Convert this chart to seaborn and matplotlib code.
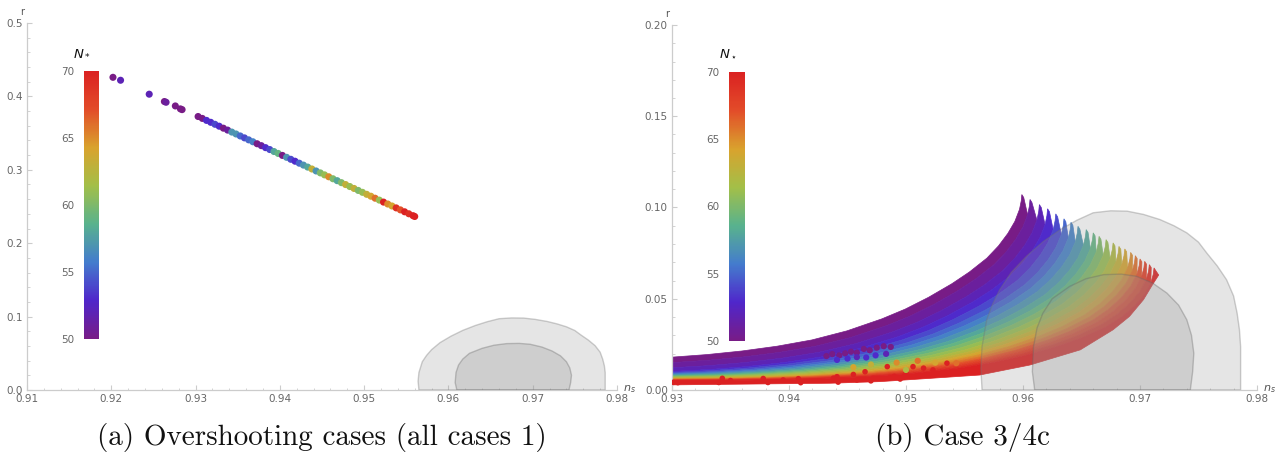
import numpy as np
import pandas as pd
import matplotlib
matplotlib.use('Agg')
import matplotlib.pyplot as plt
import seaborn as sns
from matplotlib.colors import LinearSegmentedColormap, Normalize
from matplotlib.cm import ScalarMappable
from matplotlib.ticker import MultipleLocator, AutoMinorLocator, FormatStrFormatter

# ---------- panel (a): overshooting cases ----------
a_ns = [0.9202, 0.9211, 0.9245, 0.9263, 0.9265, 0.9276, 0.9282, 0.9284,
        0.9303, 0.9308, 0.9313, 0.9318, 0.9323, 0.9328, 0.9333, 0.9338, 0.9343, 0.9348,
        0.9353, 0.9358, 0.9363, 0.9368, 0.9373, 0.9378, 0.9383, 0.9388, 0.9393, 0.9398,
        0.9403, 0.9408, 0.9413, 0.9418, 0.9423, 0.9428, 0.9433, 0.9438, 0.9443, 0.9448,
        0.9453, 0.9458, 0.9463, 0.9468, 0.9473, 0.9478, 0.9483, 0.9488, 0.9493, 0.9498,
        0.9503, 0.9508, 0.9513, 0.9518, 0.9523, 0.9528, 0.9533, 0.9538, 0.9543, 0.9548,
        0.9553, 0.9558, 0.9560]
a_r = [0.426, 0.422, 0.403, 0.393, 0.392, 0.387, 0.383, 0.382,
       0.3726, 0.3700, 0.3673, 0.3647, 0.3620, 0.3594, 0.3567, 0.3541, 0.3514, 0.3488,
       0.3461, 0.3435, 0.3408, 0.3382, 0.3355, 0.3329, 0.3302, 0.3276, 0.3249, 0.3223,
       0.3196, 0.3170, 0.3143, 0.3117, 0.3090, 0.3064, 0.3037, 0.3011, 0.2984, 0.2958,
       0.2931, 0.2905, 0.2878, 0.2852, 0.2825, 0.2799, 0.2772, 0.2746, 0.2719, 0.2693,
       0.2666, 0.2640, 0.2613, 0.2587, 0.2560, 0.2534, 0.2507, 0.2481, 0.2454, 0.2428,
       0.2401, 0.2375, 0.2364]
a_N = [50, 52, 52, 50, 51, 50, 50, 50,
       50, 50, 53, 53, 54, 53, 50, 51, 57, 57,
       55, 54, 55, 56, 50, 51, 53, 54, 58, 59,
       50, 57, 54, 53, 55, 57, 58, 63, 57, 60,
       61, 65, 60, 58, 60, 63, 61, 63, 60, 61,
       63, 64, 66, 61, 70, 65, 64, 69, 67, 70,
       69, 70, 70]

# ---------- panel (b): case 3/4c ----------
n_star = list(range(50, 71))
tip_ns = [0.9599, 0.9606, 0.9614, 0.9621, 0.9628, 0.9635, 0.9641, 0.9647, 0.9654, 0.9660,
          0.9665, 0.9671, 0.9677, 0.9682, 0.9687, 0.9692, 0.9696, 0.9700, 0.9704, 0.9708, 0.9712]
tip_r = [0.1071, 0.1044, 0.1016, 0.0993, 0.0965, 0.0938, 0.0919, 0.0897, 0.0879, 0.0861,
         0.0842, 0.0824, 0.0806, 0.0787, 0.0773, 0.0754, 0.0736, 0.0718, 0.0705, 0.0687, 0.0669]
# top of each band at ns = 0.93
start_r = [0.0180, 0.0150, 0.0122, 0.0102, 0.0097, 0.0092, 0.0088, 0.0085, 0.0081, 0.0078,
           0.0075, 0.0072, 0.0069, 0.0066, 0.0063, 0.0061, 0.0059, 0.0057, 0.0055, 0.0053, 0.0051]
# upper edge of the N=50 band
top_ns = [0.9300, 0.9330, 0.9360, 0.9390, 0.9420, 0.9450, 0.9480, 0.9500, 0.9520, 0.9540,
          0.9555, 0.9570, 0.9580, 0.9588, 0.9594, 0.9598, 0.95995, 0.9600]
top_r = [0.0180, 0.0202, 0.0228, 0.0260, 0.0300, 0.0355, 0.0425, 0.0480, 0.0545, 0.0618,
         0.0680, 0.0752, 0.0815, 0.0878, 0.0938, 0.0998, 0.1040, 0.1071]
# lower edge of the whole fan (N=70 band)
low_ns = [0.9300, 0.9403, 0.9435, 0.9478, 0.9521, 0.9563, 0.9606, 0.9649, 0.9677, 0.9691,
          0.9703, 0.9711, 0.9716]
low_r = [0.0028, 0.0035, 0.0037, 0.0046, 0.0064, 0.0082, 0.0137, 0.0220, 0.0330, 0.0403,
         0.0495, 0.0580, 0.0630]

# scan artefacts
red_ns = [0.9301, 0.9305, 0.9340, 0.9343, 0.9378, 0.9382, 0.9408, 0.9410, 0.9438, 0.9442,
          0.9441, 0.9472, 0.9484, 0.9506, 0.9523, 0.9535, 0.9350, 0.9395, 0.9455, 0.9465,
          0.9490, 0.9500, 0.9515, 0.9458, 0.9470, 0.9495]
red_r = [0.0042, 0.0040, 0.0041, 0.0064, 0.0063, 0.0041, 0.0062, 0.0040, 0.0065, 0.0043,
         0.0073, 0.0064, 0.0128, 0.0128, 0.0110, 0.0147, 0.0052, 0.0055, 0.0085, 0.0100,
         0.0075, 0.0095, 0.0120, 0.0055, 0.0050, 0.0060]
dot_ns = [0.9432, 0.9437, 0.9443, 0.9448, 0.9453, 0.9458, 0.9464, 0.9469, 0.9475, 0.9481, 0.9487,
          0.9441, 0.9450, 0.9458, 0.9466, 0.9474, 0.9483,
          0.9455, 0.9470, 0.9492, 0.9510, 0.9525, 0.9543, 0.9500]
dot_r = [0.0186, 0.0197, 0.0190, 0.0201, 0.0210, 0.0205, 0.0225, 0.0218, 0.0232, 0.0240, 0.0236,
         0.0165, 0.0172, 0.0180, 0.0178, 0.0190, 0.0198,
         0.0125, 0.0140, 0.0150, 0.0160, 0.0150, 0.0147, 0.0110]
dot_N = [50, 50, 50, 50, 50, 50, 50, 50, 50, 50, 50,
         53, 53, 52, 53, 53, 52,
         64, 63, 65, 66, 64, 66, 62]

# Planck contours (ns, r)
outer_ns = [0.9565, 0.9564, 0.9565, 0.9569, 0.9574, 0.9580, 0.9590, 0.9603, 0.9617, 0.9632,
            0.9646, 0.9660, 0.9675, 0.9689, 0.9703, 0.9717, 0.9729, 0.9740, 0.9750, 0.9757,
            0.9766, 0.9774, 0.9780, 0.9783, 0.9785, 0.9786, 0.9786]
outer_r = [0.000, 0.012, 0.0238, 0.0385, 0.047, 0.0549, 0.0645, 0.0733, 0.0812, 0.0879,
           0.0930, 0.0971, 0.0982, 0.0980, 0.0962, 0.0934, 0.0900, 0.0861, 0.0810, 0.0751,
           0.0680, 0.0604, 0.0515, 0.0421, 0.0330, 0.0238, 0.000]
inner_ns = [0.9610, 0.9608, 0.9609, 0.9612, 0.9617, 0.9625, 0.9640, 0.9654, 0.9669, 0.9684,
            0.9697, 0.9711, 0.9723, 0.9733, 0.9740, 0.9744, 0.9746, 0.9745, 0.9743]
inner_r = [0.000, 0.010, 0.0238, 0.034, 0.0421, 0.050, 0.0568, 0.0610, 0.0632, 0.0635,
           0.0623, 0.0585, 0.0531, 0.0465, 0.0385, 0.030, 0.0201, 0.010, 0.000]

sns.set_theme(style='white')
plt.rcParams['font.family'] = ['DejaVu Sans']
plt.rcParams['mathtext.fontset'] = 'dejavusans'

rainbow = LinearSegmentedColormap.from_list('mma_rainbow', [
    (0.471, 0.109, 0.527), (0.311, 0.151, 0.795), (0.266, 0.487, 0.803),
    (0.347, 0.698, 0.555), (0.638, 0.749, 0.284), (0.850, 0.638, 0.178),
    (0.888, 0.300, 0.161), (0.857, 0.131, 0.132)])
norm = Normalize(50, 70)

fig = plt.figure(figsize=(12.85, 4.55), dpi=100)
axa = fig.add_axes([27/1285, 65/455, 590/1285, 367/455])
axb = fig.add_axes([672/1285, 65/455, 585/1285, 365/455])

def style_axes(ax, xlim, ylim, ystep, yfmt, hide_zero):
    ax.set_xlim(*xlim)
    ax.set_ylim(*ylim)
    for s in ['top', 'right']:
        ax.spines[s].set_visible(False)
    for s in ['left', 'bottom']:
        ax.spines[s].set_color('#cccccc')
        ax.spines[s].set_linewidth(0.9)
    ax.xaxis.set_major_locator(MultipleLocator(0.01))
    ax.yaxis.set_major_locator(MultipleLocator(ystep))
    ax.xaxis.set_minor_locator(AutoMinorLocator(5))
    ax.yaxis.set_minor_locator(AutoMinorLocator(5))
    ax.xaxis.set_major_formatter(FormatStrFormatter('%.2f'))
    ax.yaxis.set_major_formatter(FormatStrFormatter(yfmt))
    ax.tick_params(which='both', bottom=True, left=True, direction='in',
                   color='#cccccc', labelsize=7.5, labelcolor='#666666')
    ax.tick_params(which='major', length=3.5, width=0.8, pad=3)
    ax.tick_params(which='minor', length=1.8, width=0.6)
    if hide_zero:
        ax.yaxis.get_major_ticks()[0].label1.set_visible(False)
    ax.set_xlabel('')
    ax.set_ylabel('')
    ax.annotate('r', xy=(0, 1), xycoords='axes fraction', xytext=(-2, 4),
                textcoords='offset points', ha='right', va='bottom',
                fontsize=7, color='#555555')
    ax.annotate(r'$n_s$', xy=(1, 0), xycoords='axes fraction', xytext=(4, 1),
                textcoords='offset points', ha='left', va='center',
                fontsize=8, color='#555555')

def draw_contours(ax):
    ax.fill(outer_ns, outer_r, facecolor=(0.6, 0.6, 0.6, 0.25),
            edgecolor=(0.45, 0.45, 0.45, 0.35), lw=1.0, zorder=4)
    ax.fill(inner_ns, inner_r, facecolor=(0.6, 0.6, 0.6, 0.3),
            edgecolor=(0.4, 0.4, 0.4, 0.35), lw=1.0, zorder=4)

# panel (a)
draw_contours(axa)
df_a = pd.DataFrame({'ns': a_ns, 'r': a_r, 'N': a_N})
sns.scatterplot(data=df_a, x='ns', y='r', hue='N', palette=rainbow, hue_norm=(50, 70),
                s=26, linewidth=0, legend=False, ax=axa, zorder=3)
style_axes(axa, (0.91, 0.98), (0, 0.5), 0.1, '%.1f', True)

# panel (b): one band per N_*, each upper edge follows the shape of the N=50 edge
frac = (np.array(top_ns) - 0.93) / (top_ns[-1] - 0.93)
shape = (np.array(top_r) - top_r[0]) / (top_r[-1] - top_r[0])
edges = []
for k in range(len(n_star)):
    bend = 1.12 + 0.55 * k / (len(n_star) - 1)
    ex = 0.93 + frac * (tip_ns[k] - 0.93)
    ey = start_r[k] + (tip_r[k] - start_r[k]) * shape ** bend
    ey = np.maximum(ey, np.interp(ex, low_ns, low_r) + 0.0006)
    ex[-1], ey[-1] = tip_ns[k], tip_r[k]
    edges.append((ex, ey))

for k, N in enumerate(n_star):
    ux, uy = edges[k]
    # rounded finger end
    ux = np.append(ux, tip_ns[k] + 0.00016)
    uy = np.append(uy, tip_r[k] - 0.0016)
    if k < len(n_star) - 1:
        lx, ly = edges[k + 1][0][:-2], edges[k + 1][1][:-2]
    else:
        lx, ly = np.array(low_ns), np.array(low_r)
    px = np.concatenate([ux, lx[::-1]])
    py = np.concatenate([uy, ly[::-1]])
    c = rainbow(norm(N))
    axb.fill(px, py, facecolor=c, edgecolor=c, lw=0.5, zorder=2)

df_red = pd.DataFrame({'ns': red_ns, 'r': red_r, 'N': [70] * len(red_ns)})
sns.scatterplot(data=df_red, x='ns', y='r', hue='N', palette=rainbow, hue_norm=(50, 70),
                s=16, linewidth=0, legend=False, ax=axb, zorder=3)
df_dot = pd.DataFrame({'ns': dot_ns, 'r': dot_r, 'N': dot_N})
sns.scatterplot(data=df_dot, x='ns', y='r', hue='N', palette=rainbow, hue_norm=(50, 70),
                s=20, linewidth=0, legend=False, ax=axb, zorder=3)
draw_contours(axb)
style_axes(axb, (0.93, 0.98), (0, 0.2), 0.05, '%.2f', False)

# colour bars
for rect, lab, lx_, ly_ in [([84/1285, 116/455, 15/1285, 268/455], r'$N_*$', 82, 52),
                            ([729/1285, 114/455, 16/1285, 269/455], r'$N_\star$', 728, 54)]:
    cax = fig.add_axes(rect)
    cb = fig.colorbar(ScalarMappable(norm=norm, cmap=rainbow), cax=cax)
    cb.outline.set_visible(False)
    cb.set_ticks([50, 55, 60, 65, 70])
    cax.yaxis.set_ticks_position('left')
    cax.tick_params(length=0, labelsize=7.5, labelcolor='#666666', pad=7)
    fig.text(lx_/1285, 1 - ly_/455, lab, ha='center', va='center', fontsize=9.5, color='#111111')

fig.text(322/1285, 1 - 437/455, '(a) Overshooting cases (all cases 1)', ha='center',
         va='center', family='cmr10', fontsize=21, color='#111111')
fig.text(962/1285, 1 - 437/455, '(b) Case 3/4c', ha='center',
         va='center', family='cmr10', fontsize=21, color='#111111')

fig.savefig('out.png', dpi=100)
